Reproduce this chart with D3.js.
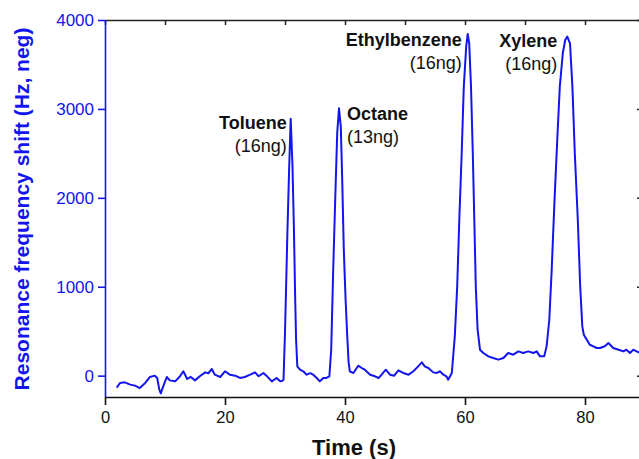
<!DOCTYPE html>
<html>
<head>
<meta charset="utf-8">
<script src="https://cdn.jsdelivr.net/npm/d3@7"></script>
<style>
  body { margin: 0; background: #fff; }
  svg { display: block; font-family: "Liberation Sans", Arial, sans-serif; }
</style>
</head>
<body>
<div class="chart"></div>
<script>
var time = [1.95, 2.5, 3.3, 4.2, 5.0, 5.8, 6.7, 7.5, 8.3, 8.7, 9.05, 9.3, 9.7, 10.3, 10.8, 11.7, 12.5, 13.05, 13.7, 14.3,
  15.0, 15.8, 16.7, 17.2, 17.8, 18.3, 19.2, 20.0, 20.8, 21.7, 22.5, 23.3, 24.2, 25.0, 25.6, 26.4, 26.9, 27.8, 28.6, 29.2,
  29.5, 29.75, 30.0, 30.4, 30.7, 30.95, 31.25, 31.5, 31.7, 31.85, 32.05, 32.5, 33.05, 33.6, 34.2, 34.7, 35.3, 35.8, 36.4, 36.9,
  37.4, 37.7, 38.05, 38.45, 38.7, 39.0, 39.3, 39.55, 39.8, 40.1, 40.35, 40.6, 40.8, 41.4, 42.2, 42.8, 43.3, 44.2, 45.0, 45.6,
  46.1, 46.8, 47.5, 48.2, 48.9, 49.7, 50.6, 51.4, 52.2, 52.8, 53.3, 53.9, 54.7, 55.3, 55.8, 56.4, 56.9, 57.2, 57.8, 58.3,
  58.7, 59.05, 59.45, 59.8, 60.2, 60.45, 60.7, 61.0, 61.3, 61.55, 61.8, 62.1, 62.5, 63.05, 63.9, 64.7, 65.55, 66.4, 67.2, 68.05,
  68.9, 69.7, 70.55, 71.4, 71.95, 72.5, 73.2, 73.6, 74.05, 74.45, 74.9, 75.4, 75.8, 76.3, 76.7, 77.05, 77.5, 77.9, 78.3, 78.8,
  79.2, 79.55, 79.8, 80.3, 80.8, 81.4, 81.95, 82.5, 83.3, 83.9, 84.7, 85.6, 86.4, 86.9, 87.5, 88.05, 88.6, 89.2];
var shift = [-135, -82, -75, -101, -112, -139, -82, -15, 0, -26, -157, -200, -120, -15, -53, -64, -7, 49, -37, -15,
  -53, -7, 37, 26, 75, 11, -15, 49, 11, 0, -26, -15, 11, 37, -7, 30, 0, -64, -26, -64,
  -60, -45, 483, 1607, 2352, 2890, 2352, 1607, 854, 404, 105, 67, 49, 11, 28, 11, -26, -64, -26, -26,
  -7, 292, 1228, 2165, 2727, 3007, 2801, 2165, 1416, 854, 480, 150, 49, 30, 112, 86, 67, 11, -7, -26,
  11, 67, 11, 0, 60, 30, 11, 49, 105, 150, 105, 86, 37, 30, 49, 11, -7, -45, 30, 442,
  1003, 1753, 2502, 3251, 3700, 3843, 3738, 3251, 2502, 1753, 1003, 517, 292, 255, 217, 198, 180, 198, 255, 236,
  273, 255, 273, 255, 273, 217, 217, 330, 629, 1191, 1940, 2689, 3251, 3626, 3775, 3813, 3738, 3251, 2502, 1753,
  1003, 554, 461, 404, 348, 330, 311, 311, 330, 367, 311, 292, 273, 292, 255, 292, 273, 255];

var xTicks = [0, 20, 40, 60, 80];
var xMinor = [10, 30, 50, 70];
var yTicks = [0, 1000, 2000, 3000, 4000];
var yMinor = [500, 1500, 2500, 3500];

var peakName = ["Toluene", "Octane", "Ethylbenzene", "Xylene"];
var peakMass = ["(16ng)", "(13ng)", "(16ng)", "(16ng)"];
var peakTime = [30.95, 39.0, 60.45, 77.05];
var peakShift = [2890, 3007, 3843, 3813];

var w = 639, h = 459;
var blue = "#1414ee";

var svg = d3.select(".chart")
  .append("svg")
  .attr("width", w)
  .attr("height", h);

var x = d3.scaleLinear().domain([0, 89.5]).range([105, 642]);
var y = d3.scaleLinear().domain([-240, 4000]).range([397, 20]);

// eje superior y derecho (sin etiquetas)
svg.append("g")
  .attr("transform", "translate(0," + y(4000) + ")")
  .call(d3.axisTop(x).tickValues(d3.range(0, 90, 10)).tickSize(-5).tickSizeOuter(0).tickFormat(""))
  .call(function(g) { g.selectAll("path,line").attr("stroke", "#222").attr("stroke-width", 1.5); });

svg.append("g")
  .attr("transform", "translate(" + x(89.5) + ",0)")
  .call(d3.axisRight(y).tickValues(yTicks).tickSize(-5).tickSizeOuter(0).tickFormat(""))
  .call(function(g) { g.selectAll("path,line").attr("stroke", "#222").attr("stroke-width", 1.5); });

// eje x
var gx = svg.append("g")
  .attr("transform", "translate(0," + y(-240) + ")");
gx.call(d3.axisBottom(x).tickValues(xMinor).tickSize(4).tickSizeOuter(0).tickFormat(""));
gx.call(d3.axisBottom(x).tickValues(xTicks).tickSize(8).tickSizeOuter(0).tickPadding(6).tickFormat(d3.format("d")));
gx.selectAll("path,line").attr("stroke", "#111").attr("stroke-width", 1.6);
gx.selectAll("text").attr("font-size", 16.5).attr("fill", "#111").attr("font-family", "Liberation Sans, Arial");

// eje y
var gy = svg.append("g")
  .attr("transform", "translate(" + x(0) + ",0)");
gy.call(d3.axisLeft(y).tickValues(yMinor).tickSize(4).tickSizeOuter(0).tickFormat(""));
gy.call(d3.axisLeft(y).tickValues(yTicks).tickSize(7).tickSizeOuter(0).tickPadding(4).tickFormat(d3.format("d")));
gy.selectAll("path,line").attr("stroke", blue).attr("stroke-width", 1.6);
gy.selectAll("text").attr("font-size", 17).attr("fill", blue).attr("font-family", "Liberation Sans, Arial");

svg.append("defs").append("clipPath").attr("id", "area")
  .append("rect").attr("x", x(0)).attr("y", y(4000)).attr("width", x(89.5) - x(0)).attr("height", y(-240) - y(4000));

var line = d3.line()
  .x(function(d, i) { return x(time[i]); })
  .y(function(d) { return y(d); });

svg.append("path")
  .datum(shift)
  .attr("clip-path", "url(#area)")
  .attr("fill", "none")
  .attr("stroke", blue)
  .attr("stroke-width", 2)
  .attr("stroke-linejoin", "round")
  .attr("d", line);

// etiquetas de picos
var dx = [-4, 8, -6, -10];
var dyName = [10, 12, 12, 10];
var anchor = ["end", "start", "end", "end"];

var lab = svg.selectAll(".peak")
  .data(peakName)
  .enter()
  .append("g")
  .attr("class", "peak");
lab.append("text")
  .attr("x", function(d, i) { return x(peakTime[i]) + dx[i]; })
  .attr("y", function(d, i) { return y(peakShift[i]) + dyName[i]; })
  .attr("text-anchor", function(d, i) { return anchor[i]; })
  .attr("font-size", 18)
  .attr("font-weight", "bold")
  .attr("fill", "#111")
  .text(function(d) { return d; });
lab.append("text")
  .attr("x", function(d, i) { return x(peakTime[i]) + dx[i]; })
  .attr("y", function(d, i) { return y(peakShift[i]) + dyName[i] + 23; })
  .attr("text-anchor", function(d, i) { return anchor[i]; })
  .attr("font-size", 18)
  .attr("fill", "#111")
  .text(function(d, i) { return peakMass[i]; });

// títulos de ejes
svg.append("text")
  .attr("x", 354)
  .attr("y", 455)
  .attr("text-anchor", "middle")
  .attr("font-size", 22)
  .attr("font-weight", "bold")
  .attr("fill", "#111")
  .text("Time (s)");

svg.append("text")
  .attr("transform", "translate(28.5,209) rotate(-90)")
  .attr("text-anchor", "middle")
  .attr("font-size", 21)
  .attr("font-weight", "bold")
  .attr("fill", blue)
  .text("Resonance frequency shift (Hz, neg)");
</script>
</body>
</html>
